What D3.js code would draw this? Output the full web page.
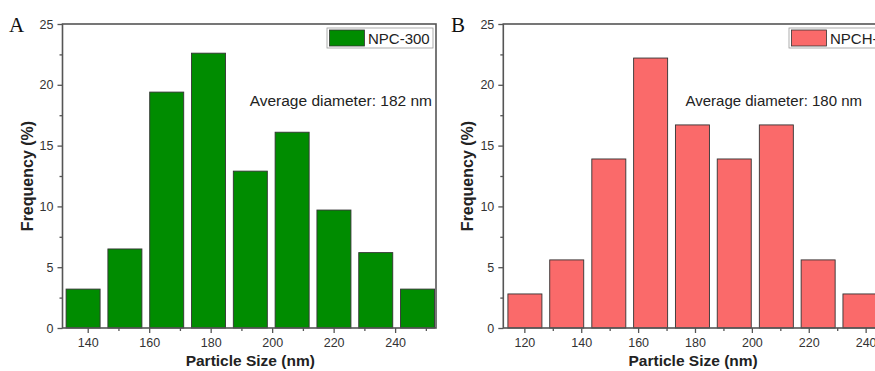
<!DOCTYPE html>
<html>
<head>
<meta charset="utf-8">
<script src="https://cdn.jsdelivr.net/npm/d3@7"></script>
<style>
  html, body { margin: 0; padding: 0; background: #fff; overflow: hidden; }
  svg { display: block; font-family: "Liberation Sans", Arial, sans-serif; }
</style>
</head>
<body>
<svg id="chart" width="875" height="371"></svg>
<script>
// Histogram bin centres (nm) and frequencies (%)
const centersA = [138.5, 152.1, 165.7, 179.3, 192.9, 206.5, 220.1, 233.7, 247.3];
const freqA    = [3.2, 6.5, 19.4, 22.6, 12.9, 16.1, 9.7, 6.2, 3.2];
const centersB = [120.2, 134.9, 149.7, 164.4, 179.1, 193.8, 208.6, 223.3, 238.0];
const freqB    = [2.8, 5.6, 13.9, 22.2, 16.7, 13.9, 16.7, 5.6, 2.8];

const xTicksA = [140, 160, 180, 200, 220, 240];
const xTicksB = [120, 140, 160, 180, 200, 220, 240];
const yTicks  = [0, 5, 10, 15, 20, 25];

const panels = [
  { label: 'A', series: 'NPC-300',  centers: centersA, freq: freqA, xTicks: xTicksA,
    fill: '#008c00', xDomain: [131.8, 253.3], left: 62.5, right: 436,
    note: 'Average diameter: 182 nm', noteX: 432, noteSize: 15.5,
    legX: 327, legW: 106, labelX: 9 },
  { label: 'B', series: 'NPCH-300', centers: centersB, freq: freqB, xTicks: xTicksB,
    fill: '#fa6a6a', xDomain: [112.6, 245.4], left: 503.3, right: 881,
    note: 'Average diameter: 180 nm', noteX: 862, noteSize: 15,
    legX: 789, legW: 120, labelX: 451 }
];

const plotTop = 24, plotBottom = 328, barPx = 34;
const svg = d3.select('#chart');

panels.forEach(p => {
  const g = svg.append('g');
  const x = d3.scaleLinear().domain(p.xDomain).range([p.left, p.right]);
  const y = d3.scaleLinear().domain([0, 25]).range([plotBottom, plotTop]);

  // Bars
  g.selectAll('rect.bar')
    .data(p.centers.map((c, i) => ({ c, f: p.freq[i] })))
    .enter().append('rect')
    .attr('class', 'bar')
    .attr('x', d => x(d.c) - barPx / 2)
    .attr('width', barPx)
    .attr('y', d => y(d.f))
    .attr('height', d => y(0) - y(d.f))
    .attr('fill', p.fill)
    .attr('stroke', '#333')
    .attr('stroke-width', 0.9);

  // Minor ticks (halfway between majors)
  const xMinor = p.xTicks.map(t => t + 10).concat([p.xTicks[0] - 10])
    .filter(t => t > p.xDomain[0] && t < p.xDomain[1]);
  const yMinor = yTicks.slice(0, -1).map(t => t + 2.5);

  const tickStyle = sel => {
    sel.select('.domain').remove();
    sel.selectAll('line').attr('stroke', '#555').attr('stroke-width', 1.3);
    sel.selectAll('text').attr('fill', '#333').attr('font-size', '12.5px');
  };

  g.append('g').attr('transform', `translate(0,${plotBottom})`)
    .call(d3.axisBottom(x).tickValues(xMinor).tickSize(3).tickFormat(''))
    .call(tickStyle);
  g.append('g').attr('transform', `translate(0,${plotBottom})`)
    .call(d3.axisBottom(x).tickValues(p.xTicks).tickSize(5).tickPadding(5).tickFormat(d3.format('d')))
    .call(tickStyle);
  g.append('g').attr('transform', `translate(${p.left},0)`)
    .call(d3.axisLeft(y).tickValues(yMinor).tickSize(3).tickFormat(''))
    .call(tickStyle);
  g.append('g').attr('transform', `translate(${p.left},0)`)
    .call(d3.axisLeft(y).tickValues(yTicks).tickSize(5).tickPadding(4).tickFormat(d3.format('d')))
    .call(tickStyle);

  // Frame
  g.append('rect')
    .attr('x', p.left).attr('y', plotTop)
    .attr('width', p.right - p.left).attr('height', plotBottom - plotTop)
    .attr('fill', 'none').attr('stroke', '#555').attr('stroke-width', 1.6);

  // Axis titles
  g.append('text')
    .attr('x', (p.left + p.right) / 2 + 1).attr('y', 366)
    .attr('text-anchor', 'middle').attr('font-weight', 'bold')
    .attr('font-size', '15.5px').attr('fill', '#222')
    .text('Particle Size (nm)');
  g.append('text')
    .attr('transform', `translate(${p.left - 30},${(plotTop + plotBottom) / 2}) rotate(-90)`)
    .attr('text-anchor', 'middle').attr('font-weight', 'bold')
    .attr('font-size', '16px').attr('fill', '#222')
    .text('Frequency (%)');

  // Panel label
  g.append('text')
    .attr('x', p.labelX).attr('y', 32)
    .attr('font-family', '"Liberation Serif", "Times New Roman", serif')
    .attr('font-size', '21px').attr('fill', '#111')
    .text(p.label);

  // Legend
  const leg = g.append('g').attr('transform', `translate(${p.legX},28)`);
  leg.append('rect').attr('width', p.legW).attr('height', 20)
    .attr('fill', '#fff').attr('stroke', '#999').attr('stroke-width', 0.8);
  leg.append('rect').attr('x', 2.5).attr('y', 2).attr('width', 35).attr('height', 16)
    .attr('fill', p.fill).attr('stroke', '#333').attr('stroke-width', 0.8);
  leg.append('text').attr('x', 41).attr('y', 16)
    .attr('font-size', '15px').attr('fill', '#222')
    .text(p.series);

  // Average diameter note
  g.append('text')
    .attr('x', p.noteX).attr('y', 106)
    .attr('text-anchor', 'end')
    .attr('font-size', p.noteSize + 'px').attr('fill', '#222')
    .text(p.note);
});
</script>
</body>
</html>
